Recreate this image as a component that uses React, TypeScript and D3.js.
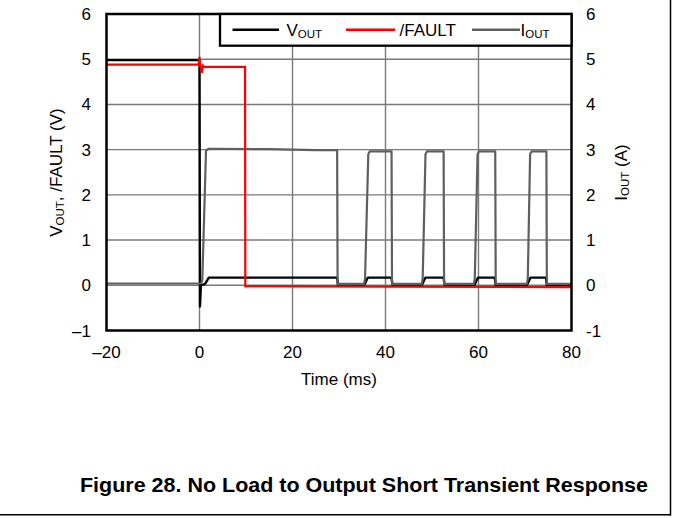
import React from "react";
import * as d3 from "d3";

// ---- data (time in ms, values in V or A) ----
const voutSeries: [number, number][] = [
  [-20, 4.98], [0, 4.98], [0.1, -0.47], [0.3, 0.0], [1.2, 0.03], [2.0, 0.17],
  [29.6, 0.17], [29.8, 0.0], [35.4, 0.0], [36.2, 0.17], [41.3, 0.17], [41.5, 0.0],
  [47.8, 0.0], [48.6, 0.17], [52.5, 0.17], [52.7, 0.0], [59.1, 0.0], [59.9, 0.17],
  [63.5, 0.17], [63.7, 0.0], [70.4, 0.0], [71.2, 0.17], [74.5, 0.17], [74.7, 0.0], [80, 0.0],
];
const faultSeries: [number, number][] = [
  [-20, 4.88], [-0.2, 4.88], [0.0, 5.05], [0.15, 4.86], [0.5, 4.7], [0.7, 4.86],
  [1.0, 4.83], [9.8, 4.83], [9.85, -0.02], [40, -0.03], [80, -0.04],
];
const ioutSeries: [number, number][] = [
  [-20, 0.04], [0.3, 0.04], [0.6, 0.1], [1.4, 2.98], [2.0, 3.02], [15, 3.01], [25, 2.99],
  [29.6, 2.99], [29.7, 0.03], [35.4, 0.03], [35.6, 0.15], [36.3, 2.9], [36.6, 2.96],
  [41.3, 2.96], [41.4, 0.03], [47.8, 0.03], [48.0, 0.15], [48.6, 2.9], [48.9, 2.96],
  [52.5, 2.96], [52.6, 0.03], [59.0, 0.03], [59.2, 0.15], [59.8, 2.9], [60.1, 2.96],
  [63.6, 2.96], [63.7, 0.03], [70.4, 0.03], [70.6, 0.15], [71.1, 2.9], [71.4, 2.96],
  [74.6, 2.96], [74.7, 0.03], [80, 0.03],
];
const xTicks = [-20, 0, 20, 40, 60, 80];
const xTickLabels = ["–20", "0", "20", "40", "60", "80"];
const yTicks = [-1, 0, 1, 2, 3, 4, 5, 6];
const yLeftLabels = ["–1", "0", "1", "2", "3", "4", "5", "6"];
const yRightLabels = ["-1", "0", "1", "2", "3", "4", "5", "6"];
const xGrid = [0, 20, 40, 60];
const yGrid = [0, 1, 2, 3, 4, 5];

const FONT = "'Liberation Sans', Arial, Helvetica, sans-serif";

export default function App() {
  const x = d3.scaleLinear().domain([-20, 80]).range([106.5, 571.5]);
  const y = d3.scaleLinear().domain([-1, 6]).range([330.5, 14]);
  const line = d3
    .line<[number, number]>()
    .x((d) => x(d[0]))
    .y((d) => y(d[1]));

  const gridColor = "#7a7a7a";
  const fs = 17;

  return (
    <svg
      width={673}
      height={518}
      style={{ position: "absolute", left: 0, top: 0, background: "#fff" }}
      fontFamily={FONT}
    >
      <rect x={0} y={0} width={673} height={518} fill="#fff" />
      {/* grid */}
      {xGrid.map((t) => (
        <line key={"gx" + t} x1={x(t)} x2={x(t)} y1={y(6)} y2={y(-1)} stroke={gridColor} strokeWidth={1.4} />
      ))}
      {yGrid.map((v) => (
        <line key={"gy" + v} x1={x(-20)} x2={x(80)} y1={y(v)} y2={y(v)} stroke={gridColor} strokeWidth={1.4} />
      ))}

      {/* series */}
      <path d={line(voutSeries) || ""} fill="none" stroke="#000" strokeWidth={2.4} strokeLinejoin="round" />
      <path d={line(ioutSeries) || ""} fill="none" stroke="#5f5f5f" strokeWidth={2.2} strokeLinejoin="round" />
      <path d={line(faultSeries) || ""} fill="none" stroke="#ff0000" strokeWidth={2.2} strokeLinejoin="miter" />

      {/* plot frame */}
      <rect x={x(-20)} y={y(6)} width={x(80) - x(-20)} height={y(-1) - y(6)} fill="none" stroke="#000" strokeWidth={2.5} />

      {/* legend */}
      <rect x={220} y={y(6)} width={x(80) - 220} height={31.7} fill="#fff" stroke="#000" strokeWidth={2.3} />
      <line x1={232.5} x2={279} y1={29.7} y2={29.7} stroke="#000" strokeWidth={2.4} />
      <text x={286.5} y={36} fontSize={fs}>
        V<tspan fontSize={11.5} dy={2}>OUT</tspan>
      </text>
      <line x1={346} x2={395} y1={29.7} y2={29.7} stroke="#ff0000" strokeWidth={2.4} />
      <text x={399.5} y={36} fontSize={fs}>/FAULT</text>
      <line x1={472} x2={520} y1={29.7} y2={29.7} stroke="#5f5f5f" strokeWidth={2.4} />
      <text x={520.5} y={36} fontSize={fs}>
        I<tspan fontSize={11.5} dy={2}>OUT</tspan>
      </text>

      {/* x tick labels */}
      {xTicks.map((t, i) => (
        <text key={"xt" + t} x={x(t)} y={358} fontSize={fs} textAnchor="middle">
          {xTickLabels[i]}
        </text>
      ))}
      <text x={339} y={385} fontSize={fs} textAnchor="middle">Time (ms)</text>

      {/* y tick labels */}
      {yTicks.map((v, i) => (
        <text key={"yl" + v} x={91} y={y(v) + 6} fontSize={fs} textAnchor="end">
          {yLeftLabels[i]}
        </text>
      ))}
      {yTicks.map((v, i) => (
        <text key={"yr" + v} x={586} y={y(v) + 6} fontSize={fs} textAnchor="start">
          {yRightLabels[i]}
        </text>
      ))}

      {/* axis titles */}
      <text transform="translate(62,172.5) rotate(-90)" fontSize={fs} textAnchor="middle">
        V<tspan fontSize={11.5} dy={2}>OUT</tspan>
        <tspan dy={-2}>, /FAULT (V)</tspan>
      </text>
      <text transform="translate(627,172.5) rotate(-90)" fontSize={fs} textAnchor="middle">
        I<tspan fontSize={11.5} dy={2}>OUT</tspan>
        <tspan dy={-2}> (A)</tspan>
      </text>

      {/* caption */}
      <text x={80} y={492} fontSize={21} fontWeight="bold" textLength={568} lengthAdjust="spacingAndGlyphs">
        Figure 28. No Load to Output Short Transient Response
      </text>

      {/* page frame */}
      <line x1={670.5} x2={670.5} y1={0} y2={515.5} stroke="#000" strokeWidth={1.5} />
      <line x1={0} x2={671} y1={514.7} y2={514.7} stroke="#000" strokeWidth={1.5} />
    </svg>
  );
}
